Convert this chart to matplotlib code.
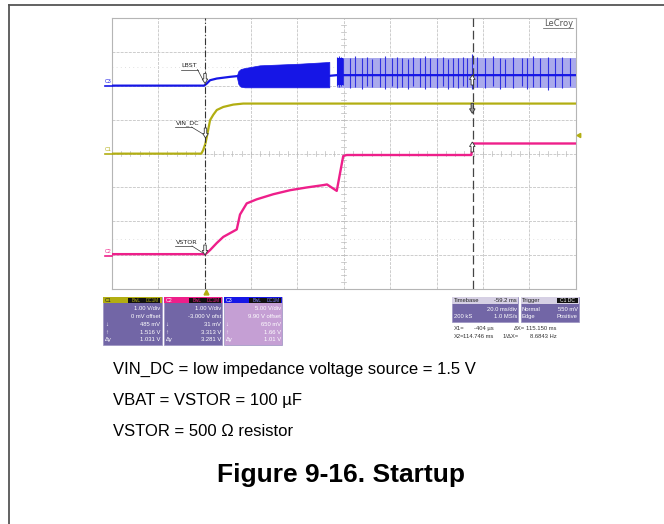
import numpy as np
import matplotlib
matplotlib.use('Agg')
import matplotlib.pyplot as plt
from matplotlib.patches import Rectangle, Polygon

plt.rcParams['font.family'] = ['Liberation Sans', 'DejaVu Sans']

# ---------------- scope settings ----------------
T_DIV = 20.0          # ms/div
T_CENTER = 59.2       # ms (timebase delay -59.2 ms)
X1 = -0.404           # ms cursor 1
X2 = 114.746          # ms cursor 2
C1_SCALE, C1_OFFSET = 1.0, 0.0
C2_SCALE, C2_OFFSET = 1.0, -3.0
C3_SCALE, C3_OFFSET = 5.0, 9.9

# ---------------- data (time in ms, voltage in V) ----------------
c1_t = [-40.8, -2.2, -1.4, -0.4, 0.5, 1.6, 3.0, 4.5, 7.3, 11.6, 15.9, 159.2]
c1_v = [0.0, 0.0, 0.1, 0.3, 0.6, 0.99, 1.15, 1.29, 1.38, 1.45, 1.48, 1.48]

c2_t = [-40.8, -0.4, 1.6, 4.5, 7.3, 10.2, 13.1, 14.5, 17.4, 21.7, 28.8, 36.1,
        43.2, 50.4, 52.0, 56.2, 59.0, 60.5, 114.2, 114.9, 159.2]
c2_v = [0.03, 0.03, 0.15, 0.36, 0.54, 0.65, 0.76, 1.2, 1.53, 1.65, 1.8, 1.92,
        2.0, 2.07, 2.09, 1.9, 2.93, 2.96, 2.96, 3.3, 3.3]

c3_t = [-40.8, -1.0, 0.0, 1.6, 4.5, 10.2, 13.1, 53.0, 56.2, 159.2]
c3_v = [0.15, 0.15, 0.4, 0.95, 1.2, 1.45, 1.55, 1.6, 1.7, 1.7]

burst1_t = [13.1, 13.8, 14.8, 16.5, 23.0, 40.4, 53.0]
burst1_top = [1.6, 2.3, 2.6, 2.75, 3.15, 3.4, 3.65]
burst1_bot = [1.5, 0.4, 0.0, -0.1, -0.1, -0.1, -0.1]

burst2_t = [56.2, 159.2]
burst2_top = [4.3, 4.3]
burst2_bot = [-0.2, -0.2]

spike_t = [56.2, 57.2, 58.0, 59.0, 61.9, 64.0, 67.0, 69.1, 71.3, 74.9, 77.0,
           79.9, 82.0, 84.2, 87.0, 89.2, 92.1, 94.2, 96.4, 99.3, 102.1, 104.3,
           106.4, 108.5, 110.6, 112.3, 114.6, 116.5, 120.1, 123.7, 126.6,
           128.8, 132.3, 136.0, 138.2, 141.0, 143.9, 147.4, 150.3, 153.2, 156.8]
spike_top = [4.4, 4.5, 4.4, 4.3, 4.2, 4.5, 4.2, 4.4, 4.1, 4.3, 4.5,
             4.2, 4.4, 4.3, 4.1, 4.4, 4.2, 4.5, 4.2, 4.3, 4.4, 4.1,
             4.3, 4.2, 4.4, 4.2, 4.8, 4.4, 4.2, 4.5, 4.3,
             4.1, 4.4, 4.3, 4.2, 4.5, 4.3, 4.4, 4.2, 4.4, 4.3]
spike_bot = [0.1, 0.0, 0.1, 0.2, -0.2, 0.0, -0.3, 0.1, -0.1, 0.0, -0.4,
             0.1, -0.2, 0.0, -0.3, 0.1, -0.1, -0.4, 0.0, -0.2, 0.1, -0.3,
             0.0, -0.2, 0.1, -0.1, -0.3, 0.0, -0.2, 0.1, -0.4,
             0.0, -0.2, 0.1, -0.3, 0.0, -0.1, -0.5, 0.0, -0.2, 0.1]

c1_info = ["1.00 V/div", "0 mV offset", "485 mV", "1.516 V", "1.031 V"]
c2_info = ["1.00 V/div", "-3.000 V ofst", "31 mV", "3.313 V", "3.281 V"]
c3_info = ["5.00 V/div", "9.90 V offset", "650 mV", "1.66 V", "1.01 V"]

notes = ["VIN_DC = low impedance voltage source = 1.5 V",
         "VBAT = VSTOR = 100 \u00b5F",
         "VSTOR = 500 \u03a9 resistor"]
title = "Figure 9-16. Startup"

# ---------------- figure ----------------
W, H = 664, 524
fig = plt.figure(figsize=(W / 100, H / 100), dpi=100)
fig.patch.set_facecolor('white')

BLUE = '#1616e6'
OLIVE = '#b2ae12'
MAGENTA = '#ee1f8a'
GRIDC = '#cdcdcd'

gl, gr, gt, gb = 111.7, 575.7, 18.3, 289.0
ax = fig.add_axes([gl / W, 1 - gb / H, (gr - gl) / W, (gb - gt) / H])
t_min, t_max = T_CENTER - 5 * T_DIV, T_CENTER + 5 * T_DIV
ax.set_xlim(t_min, t_max)
ax.set_ylim(-4, 4)
ax.set_xticks([]); ax.set_yticks([])
for s in ax.spines.values():
    s.set_color('#b5b5b5'); s.set_linewidth(0.8)


def div(v, scale, offset):
    return (np.asarray(v, float) + offset) / scale


# grid
for k in range(1, 10):
    ax.axvline(t_min + k * T_DIV, color=GRIDC, lw=0.7, ls=(0, (3, 1.2)), zorder=0)
for k in range(-3, 4):
    ax.axhline(k, color=GRIDC, lw=0.7, ls=(0, (3, 1.2)), zorder=0)
# center ticks
for k in range(-25, 26):
    x = T_CENTER + k * T_DIV / 5
    ax.plot([x, x], [-0.07, 0.07], color='#bbbbbb', lw=0.5, zorder=0)
for k in range(-20, 21):
    y = k / 5
    ax.plot([T_CENTER - 1.2, T_CENTER + 1.2], [y, y], color='#bbbbbb', lw=0.5, zorder=0)
# faint horizontal cursors
for y in (2.55, -2.53):
    ax.axhline(y, color='#d6d6d6', lw=0.6, ls=(0, (1, 4)), zorder=0)

# C3 (LBST)
ax.fill_between(burst2_t, div(burst2_bot, C3_SCALE, C3_OFFSET),
                div(burst2_top, C3_SCALE, C3_OFFSET), color='#aaaaec', lw=0, zorder=2)
ax.vlines(spike_t, div(spike_bot, C3_SCALE, C3_OFFSET), div(spike_top, C3_SCALE, C3_OFFSET),
          color='#3030e0', lw=0.8, zorder=3)
ax.fill_between([56.2, 59.0], div([0.2, 0.2], C3_SCALE, C3_OFFSET),
                div([4.3, 4.3], C3_SCALE, C3_OFFSET), color=BLUE, lw=0, zorder=3)
ax.plot(c3_t, div(c3_v, C3_SCALE, C3_OFFSET), color=BLUE, lw=1.6, zorder=4)
ax.fill_between(burst1_t, div(burst1_bot, C3_SCALE, C3_OFFSET),
                div(burst1_top, C3_SCALE, C3_OFFSET), color=BLUE, lw=0.5, zorder=4)

# C1 (VIN_DC)
ax.plot(c1_t, div(c1_v, C1_SCALE, C1_OFFSET), color=OLIVE, lw=1.6, zorder=4)
# C2 (VSTOR)
ax.plot(c2_t, div(c2_v, C2_SCALE, C2_OFFSET), color=MAGENTA, lw=1.7, zorder=4)

# cursors
ax.axvline(X1, color='#333333', lw=0.8, ls=(0, (6, 2, 1, 2)), zorder=5)
ax.axvline(X2, color='#444444', lw=0.9, ls=(0, (7, 3)), zorder=5)

# ---------------- overlay (pixel coordinates) ----------------
ov = fig.add_axes([0, 0, 1, 1])
ov.set_xlim(0, W); ov.set_ylim(H, 0); ov.axis('off')

# page frame
ov.plot([9, 9], [5, H], color='#555555', lw=1.3)
ov.plot([9, W], [5, 5], color='#555555', lw=1.3)

# LeCroy
ov.text(573, 24, "LeCroy", fontsize=6, color='#555555', ha='right', va='center',
        family=['DejaVu Sans'])
ov.plot([543, 573], [28, 28], color='#555555', lw=0.5)

# channel markers on left
for lab, y, c in (("C3", 85.5, BLUE), ("C1", 153.5, OLIVE), ("C2", 255.7, MAGENTA)):
    ov.text(105, y - 4, lab, fontsize=3.8, color=c, ha='left', va='center')
    ov.plot([105, 111.7], [y, y], color=c, lw=1.2)

# trigger markers
ov.plot([578.5], [134.5], marker=(3, 0, 90), color=OLIVE, ms=3.5)
ov.plot([205.7], [292], marker='^', color=OLIVE, ms=3.5, mec=OLIVE)

# labels with leaders
def tag(text, x, y, tip):
    ov.text(x, y, text, fontsize=4.6, color='#222222', ha='left', va='bottom',
            family=['DejaVu Sans'])
    ov.plot([x - 1, x + 16], [y + 1.5, y + 1.5], color='#333333', lw=0.5)
    ov.plot([x + 16, tip[0]], [y + 1.5, tip[1]], color='#333333', lw=0.5)

tag("LBST", 181.5, 68, (203, 80))
tag("VIN_DC", 175.5, 125.5, (203, 134))
tag("VSTOR", 176, 244.5, (203, 253))


def arrow(cx, cy, down=True, fc='white', h=10.0, w=5.6):
    s = 1 if down else -1
    hh = h / 2
    pts = [(-w * 0.22, -hh * s), (w * 0.22, -hh * s), (w * 0.22, 0.1 * hh * s),
           (w / 2, 0.1 * hh * s), (0, hh * s), (-w / 2, 0.1 * hh * s),
           (-w * 0.22, 0.1 * hh * s)]
    ov.add_patch(Polygon([(cx + px, cy + py) for px, py in pts], closed=True,
                         fc=fc, ec='#333333', lw=0.6, zorder=10))

arrow(205, 78.5, True)
arrow(205.5, 133, True)
arrow(205, 250, True)
arrow(472.3, 80, False)
arrow(472.3, 108.3, True, fc='#999999')
arrow(472.3, 147, False)

# channel info boxes
BODY = '#7266a6'
def chbox(x0, lab, hdr, body, info, txtc='white'):
    x1 = x0 + 58.4
    y0, yh, y1 = 296.7, 303.3, 345.0
    ov.add_patch(Rectangle((x0, y0), x1 - x0, y1 - y0, fc=body, ec='#9a92c0', lw=0.5))
    ov.add_patch(Rectangle((x0, y0), x1 - x0, yh - y0, fc=hdr, ec='none'))
    ov.text(x0 + 1.5, (y0 + yh) / 2 + 0.3, lab, fontsize=3.8, color='#222222' if hdr == OLIVE else 'white',
            ha='left', va='center')
    ov.add_patch(Rectangle((x0 + 25, y0 + 0.8), 32, yh - y0 - 1.6, fc='#111111', ec='none'))
    bc = hdr if hdr != BLUE else '#8080ff'
    ov.text(x0 + 33, (y0 + yh) / 2 + 0.3, "BwL", fontsize=3.3, color=bc, ha='center', va='center')
    ov.text(x0 + 49, (y0 + yh) / 2 + 0.3, "DC1M", fontsize=3.3, color=bc, ha='center', va='center')
    ys = [309.0, 317.0, 324.5, 332.0, 339.7]
    for s, y in zip(info, ys):
        ov.text(x1 - 1.5, y, s, fontsize=4.2, color=txtc, ha='right', va='center')
    for s, y in zip(["\u2193", "\u2191", "\u0394y"], ys[2:]):
        ov.text(x0 + 1.5, y, s, fontsize=4.2, color=txtc, ha='left', va='center')

chbox(103.3, "C1", OLIVE, BODY, c1_info)
chbox(164.0, "C2", MAGENTA, BODY, c2_info)
chbox(224.0, "C3", BLUE, '#c59fd4', c3_info)

# timebase / trigger boxes
HDR = '#d6d0e4'
def tbox(x0, x1, hl, hr, rows, badge=False):
    y0, yh, y1 = 296.7, 303.5, 321.7
    ov.add_patch(Rectangle((x0, y0), x1 - x0, y1 - y0, fc=BODY, ec='#9a92c0', lw=0.5))
    ov.add_patch(Rectangle((x0, y0), x1 - x0, yh - y0, fc=HDR, ec='none'))
    ov.text(x0 + 1.2, (y0 + yh) / 2 + 0.3, hl, fontsize=4.2, color='#222222', ha='left', va='center')
    if badge:
        ov.add_patch(Rectangle((x1 - 22, y0 + 0.8), 21, yh - y0 - 1.6, fc='#111111', ec='none'))
        ov.text(x1 - 11.5, (y0 + yh) / 2 + 0.3, hr, fontsize=3.6, color='white', ha='center', va='center')
    else:
        ov.text(x1 - 1.2, (y0 + yh) / 2 + 0.3, hr, fontsize=4.2, color='#222222', ha='right', va='center')
    for (l, r), y in zip(rows, [309.2, 316.8]):
        ov.text(x0 + 1.2, y, l, fontsize=4.2, color='white', ha='left', va='center')
        ov.text(x1 - 1.2, y, r, fontsize=4.2, color='white', ha='right', va='center')

tbox(452.3, 518.3, "Timebase", "-59.2 ms", [("", "20.0 ms/div"), ("200 kS", "1.0 MS/s")])
tbox(520.7, 578.7, "Trigger", "C1 DC", [("Normal", "550 mV"), ("Edge", "Positive")], badge=True)

CT = '#333333'
ov.text(454, 328.3, "X1=", fontsize=4.2, color=CT, ha='left', va='center')
ov.text(493.5, 328.3, "-404 \u00b5s", fontsize=4.2, color=CT, ha='right', va='center')
ov.text(514, 328.3, "\u0394X=", fontsize=4.2, color=CT, ha='left', va='center')
ov.text(557, 328.3, "115.150 ms", fontsize=4.2, color=CT, ha='right', va='center')
ov.text(454, 337, "X2=", fontsize=4.2, color=CT, ha='left', va='center')
ov.text(493.5, 337, "114.746 ms", fontsize=4.2, color=CT, ha='right', va='center')
ov.text(503, 337, "1/\u0394X=", fontsize=4.2, color=CT, ha='left', va='center')
ov.text(557, 337, "8.6843 Hz", fontsize=4.2, color=CT, ha='right', va='center')

# notes and title
for s, y in zip(notes, [369.0, 400.7, 432.0]):
    ov.text(113, y, s, fontsize=12, color='black', ha='left', va='center')
ov.text(341, 475, title, fontsize=19, fontweight='bold', color='black', ha='center', va='center')

fig.savefig('out.png', dpi=100)
